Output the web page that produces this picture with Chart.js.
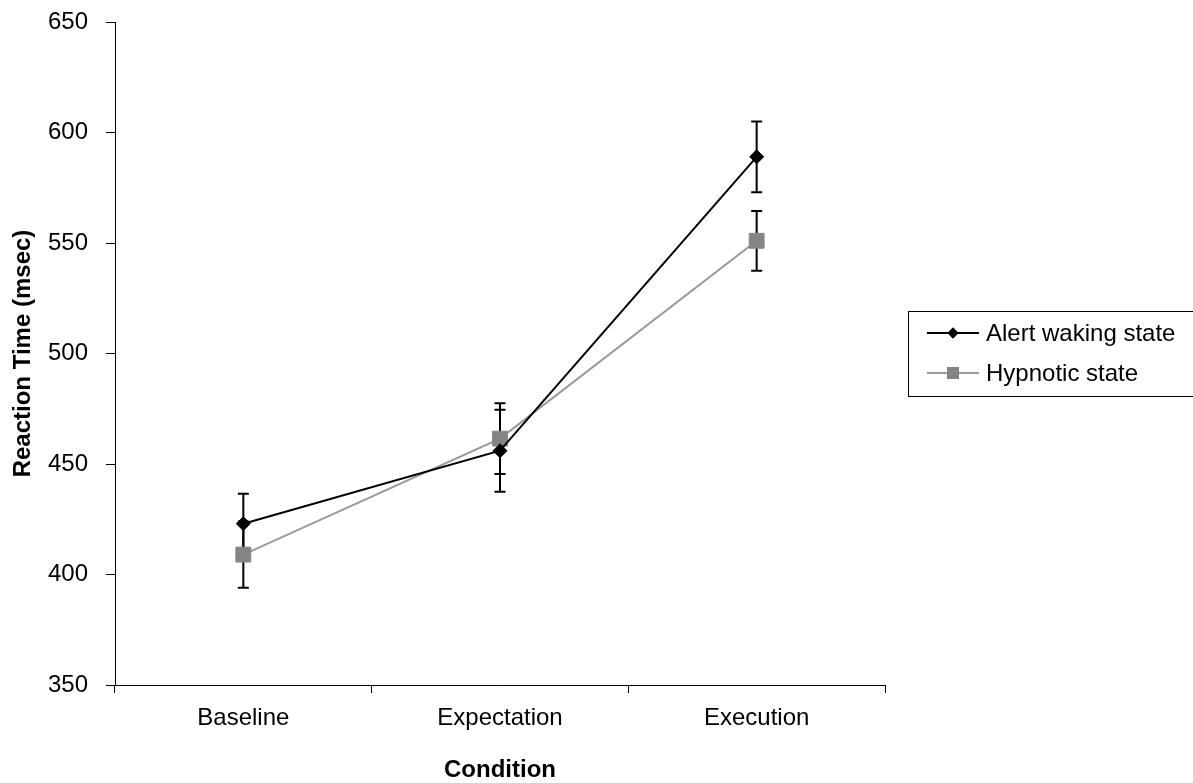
<!DOCTYPE html>
<html>
<head>
<meta charset="utf-8">
<script src="https://cdn.jsdelivr.net/npm/chart.js@4"></script>
<style>
  body { margin: 0; background: #fff; }
  #wrap { position: relative; width: 1193px; height: 783px; }
  #legend {
    position: absolute; left: 908px; top: 311px; width: 284px; height: 84px;
    border: 1px solid #000; font-family: "Liberation Sans", Arial, sans-serif; font-size: 24px;
  }
  .row { position: absolute; left: 18px; height: 28px; display: flex; align-items: center; }
  .sample { position: relative; width: 52px; height: 28px; margin-right: 7px; }
  .sample .ln { position: absolute; left: 0; right: 0; top: 13px; height: 2px; }
  .sample .mk { position: absolute; }
</style>
</head>
<body>
<div id="wrap">
  <canvas id="rt" width="1193" height="783"></canvas>
  <div id="legend">
    <div class="row" style="top:7px">
      <div class="sample"><div class="ln" style="background:#000"></div>
        <div class="mk" style="left:22px;top:10px;width:8px;height:8px;background:#000;transform:rotate(45deg)"></div></div>
      <span>Alert waking state</span>
    </div>
    <div class="row" style="top:47px">
      <div class="sample"><div class="ln" style="background:#999"></div>
        <div class="mk" style="left:20px;top:8px;width:12px;height:12px;background:#858585"></div></div>
      <span>Hypnotic state</span>
    </div>
  </div>
</div>
<script>
// valores
const conditions = ['Baseline', 'Expectation', 'Execution'];
const alertMeans = [423, 456, 589];
const alertErrors = [13.5, 18.5, 16];
const hypnoticMeans = [409, 461.5, 551];
const hypnoticErrors = [15, 16, 13.5];
const yTicks = [350, 400, 450, 500, 550, 600, 650];

const FONT = '"Liberation Sans", Arial, sans-serif';

// barras de erro desenhadas atrás dos marcadores
const errorBars = {
  id: 'errorBars',
  beforeDatasetsDraw(chart) {
    const ctx = chart.ctx;
    const y = chart.scales.y;
    ctx.save();
    ctx.strokeStyle = '#000';
    ctx.lineWidth = 2;
    chart.data.datasets.forEach((ds, i) => {
      const meta = chart.getDatasetMeta(i);
      meta.data.forEach((pt, j) => {
        const top = y.getPixelForValue(ds.data[j] + ds.errors[j]);
        const bot = y.getPixelForValue(ds.data[j] - ds.errors[j]);
        ctx.beginPath();
        ctx.moveTo(pt.x, top); ctx.lineTo(pt.x, bot);
        ctx.moveTo(pt.x - 5.5, top); ctx.lineTo(pt.x + 5.5, top);
        ctx.moveTo(pt.x - 5.5, bot); ctx.lineTo(pt.x + 5.5, bot);
        ctx.stroke();
      });
    });
    ctx.restore();
  }
};

new Chart(document.getElementById('rt'), {
  type: 'line',
  data: {
    labels: conditions,
    datasets: [{
      label: 'Alert waking state',
      data: alertMeans,
      errors: alertErrors,
      borderColor: '#000',
      borderWidth: 2,
      pointStyle: 'rectRot',
      pointRadius: 7,
      pointBorderWidth: 1,
      pointBackgroundColor: '#000',
      pointBorderColor: '#000'
    }, {
      label: 'Hypnotic state',
      data: hypnoticMeans,
      errors: hypnoticErrors,
      borderColor: '#999',
      borderWidth: 2,
      pointStyle: 'rect',
      pointRadius: 10.5,
      pointBorderWidth: 1,
      pointBackgroundColor: '#858585',
      pointBorderColor: '#858585'
    }]
  },
  options: {
    responsive: false,
    animation: false,
    layout: { autoPadding: false, padding: { left: 0, right: 308, top: 22, bottom: 0 } },
    plugins: { legend: { display: false }, tooltip: { enabled: false } },
    scales: {
      x: {
        offset: true,
        grid: { offset: true, drawOnChartArea: false, drawTicks: true, tickLength: 8, color: '#000' },
        border: { color: '#000', width: 1 },
        ticks: { color: '#000', font: { family: FONT, size: 24 }, padding: 11 },
        title: { display: true, text: 'Condition', color: '#000', font: { family: FONT, size: 24, weight: 'bold' }, padding: { top: 16, bottom: -2 } },
        afterFit(s) { s.height = 98; }
      },
      y: {
        min: 350, max: 650,
        afterBuildTicks(s) { s.ticks = yTicks.map(v => ({ value: v })); },
        grid: { drawOnChartArea: false, drawTicks: true, tickLength: 9, color: '#000' },
        border: { color: '#000', width: 1 },
        ticks: { color: '#000', font: { family: FONT, size: 24 }, padding: 18 },
        title: { display: true, text: 'Reaction Time (msec)', color: '#000', font: { family: FONT, size: 24, weight: 'bold' }, padding: { top: 9, bottom: 6 } },
        afterFit(s) { s.width = 115; s.paddingTop = 0; s.paddingBottom = 0; }
      }
    }
  },
  plugins: [errorBars]
});
</script>
</body>
</html>
